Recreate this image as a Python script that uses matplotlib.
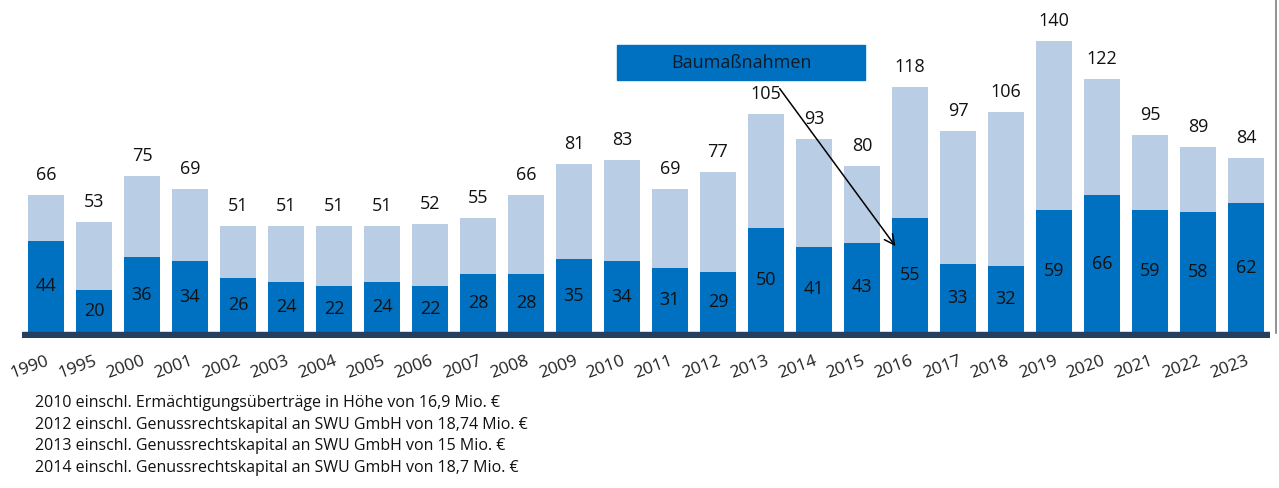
import matplotlib
matplotlib.use('Agg')
import matplotlib.pyplot as plt
from matplotlib.patches import Rectangle
import numpy as np

plt.rcParams['font.family'] = ['Open Sans', 'DejaVu Sans']

years = ['1990', '1995', '2000', '2001', '2002', '2003', '2004', '2005', '2006', '2007',
         '2008', '2009', '2010', '2011', '2012', '2013', '2014', '2015', '2016', '2017',
         '2018', '2019', '2020', '2021', '2022', '2023']
totals = [66, 53, 75, 69, 51, 51, 51, 51, 52, 55, 66, 81, 83, 69, 77, 105, 93, 80,
          118, 97, 106, 140, 122, 95, 89, 84]
baumassnahmen = [44, 20, 36, 34, 26, 24, 22, 24, 22, 28, 28, 35, 34, 31, 29, 50, 41, 43,
                 55, 33, 32, 59, 66, 59, 58, 62]
footnotes = ['2010 einschl. Ermächtigungsüberträge in Höhe von 16,9 Mio. €',
             '2012 einschl. Genussrechtskapital an SWU GmbH von 18,74 Mio. €',
             '2013 einschl. Genussrechtskapital an SWU GmbH von 15 Mio. €',
             '2014 einschl. Genussrechtskapital an SWU GmbH von 18,7 Mio. €']

dark = '#0070C0'
light = '#B9CDE5'
navy = '#243F60'
txt = '#111111'

W, H = 1279, 488
fig = plt.figure(figsize=(W / 100, H / 100), dpi=100)
# axes: x 22..1270 px, y top 0 .. bottom 338 px
ax = fig.add_axes([22 / W, 150 / H, 1248 / W, 338 / H])

x = np.arange(len(years))
rest = [t - d for t, d in zip(totals, baumassnahmen)]
ax.bar(x, baumassnahmen, width=0.77, color=dark, zorder=2)
ax.bar(x, rest, width=0.77, bottom=baumassnahmen, color=light, zorder=2)

ax.set_xlim(-0.5, len(years) - 0.5)
ax.set_ylim(-2.9, 160)
ax.axhspan(-2.9, 0, color=navy, zorder=3)

for i in x:
    ax.annotate(str(totals[i]), (i, totals[i]), xytext=(0, 8), textcoords='offset points',
                ha='center', va='bottom', fontsize=13, color=txt)
    ax.text(i, baumassnahmen[i] / 2, str(baumassnahmen[i]), ha='center', va='center',
            fontsize=13, color=txt, zorder=4)

ax.set_xticks(x)
ax.set_xticklabels(years, rotation=20, ha='right', rotation_mode='anchor',
                   fontsize=12.5, color='#222222')
ax.tick_params(axis='x', length=0, pad=11)
ax.set_yticks([])
for s in ax.spines.values():
    s.set_visible(False)

# box + arrow
ax.add_patch(Rectangle((11.9, 121.3), 5.16, 17.2, color=dark, clip_on=False, zorder=5))
ax.text(11.9 + 5.16 / 2, 121.3 + 8.4, 'Baumaßnahmen', ha='center', va='center',
        fontsize=13, color='#0d1b2a', zorder=6)
ax.annotate('', xy=(17.73, 40.3), xytext=(15.25, 118.4),
            arrowprops=dict(arrowstyle='->', color='black', lw=1.1, mutation_scale=18),
            zorder=6)

# right border line
fig.add_artist(plt.Line2D([1276 / W, 1276 / W], [1 - 333 / H, 1.0],
                          color='#7f7f7f', lw=1.2))

for k, line in enumerate(footnotes):
    fig.text(35 / W, 1 - (403 + k * 21.7) / H, line, fontsize=11.5, color=txt,
             ha='left', va='center')

fig.savefig('out.png', dpi=100)
